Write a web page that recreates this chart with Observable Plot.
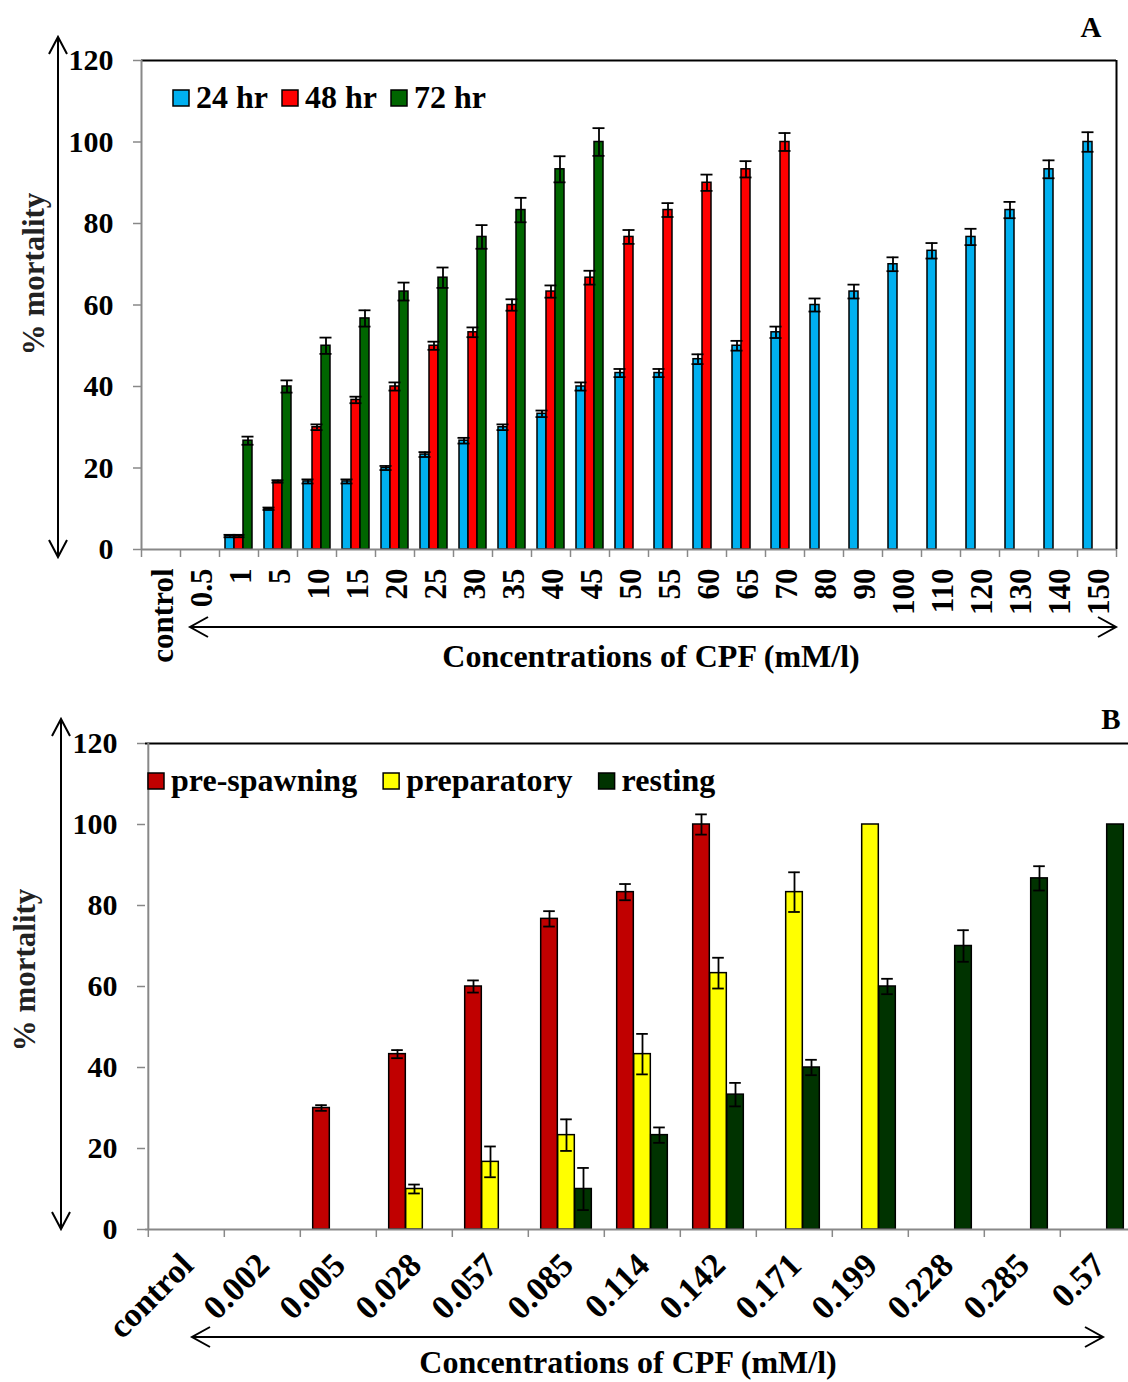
<!DOCTYPE html>
<html><head><meta charset="utf-8">
<script src="https://cdn.jsdelivr.net/npm/d3@7"></script>
<script src="https://cdn.jsdelivr.net/npm/@observablehq/plot@0.6"></script>
<style>
body{margin:0;background:#fff;}
#wrap{position:relative;width:1128px;height:1382px;overflow:hidden;background:#fff;}
#wrap > div{position:absolute;left:0;}
#wrap svg{display:block;max-width:none !important;}
</style></head><body><div id="wrap"><div id="pa" style="top:0;width:1128px"></div><div id="pb" style="top:690px;width:1150px"></div></div>
<script>
const FONT = '"Liberation Serif", "Times New Roman", Times, serif';
const yTicks = [0, 20, 40, 60, 80, 100, 120];
const yLabel = "% mortality";
const xLabel = "Concentrations of CPF (mM/l)";

// ---- Panel A data ----
const catsA = ["control","0.5","1","5","10","15","20","25","30","35","40","45","50","55","60","65","70","80","90","100","110","120","130","140","150"];
const seriesA = ["24 hr", "48 hr", "72 hr"];
const colorsA = ["#00B0F0", "#FF0000", "#006600"];
const mort24 = [0,0,3.3,10,16.7,16.7,20,23.3,26.7,30,33.3,40,43.3,43.3,46.7,50,53.3,60,63.3,70,73.3,76.7,83.3,93.3,100];
const err24  = [0,0,0.3,0.3,0.5,0.5,0.5,0.6,0.7,0.7,0.8,1,1,1,1.2,1.2,1.4,1.6,1.7,1.7,1.9,2,2,2.2,2.4];
const mort48 = [0,0,3.3,16.7,30,36.7,40,50,53.3,60,63.3,66.7,76.7,83.3,90,93.3,100,null,null,null,null,null,null,null,null];
const err48  = [0,0,0.3,0.3,0.7,0.8,1,1,1.2,1.4,1.5,1.7,1.7,1.7,2,2,2.2,null,null,null,null,null,null,null,null];
const mort72 = [0,0,26.7,40,50,56.7,63.3,66.7,76.7,83.3,93.3,100,null,null,null,null,null,null,null,null,null,null,null,null,null];
const err72  = [0,0,1,1.5,2,2,2.2,2.5,2.9,3,3.2,3.4,null,null,null,null,null,null,null,null,null,null,null,null,null];

// ---- Panel B data ----
const catsB = ["control","0.002","0.005","0.028","0.057","0.085","0.114","0.142","0.171","0.199","0.228","0.285","0.57"];
const seriesB = ["pre-spawning", "preparatory", "resting"];
const colorsB = ["#C00000", "#FFFF00", "#003300"];
const preSpawning    = [0,0,30,43.3,60,76.7,83.3,100,null,null,null,null,null];
const preSpawningErr = [0,0,0.7,1,1.5,1.9,2,2.5,null,null,null,null,null];
const preparatory    = [0,0,0,10,16.7,23.3,43.3,63.3,83.3,100,null,null,null];
const preparatoryErr = [0,0,0,1.1,3.8,3.9,5,3.8,4.9,0,null,null,null];
const resting        = [0,0,0,0,0,10,23.3,33.3,40,60,70,86.7,100];
const restingErr     = [0,0,0,0,0,5.2,1.9,2.9,1.9,1.9,3.9,3,0];

function rows(cats, vals, errs) {
  return cats.map((c, i) => ({cat: c, v: vals[i], e: errs[i]})).filter(d => d.v != null && d.v > 0);
}

function buildPanel(cfg) {
  const {cats, data, colors, width, height, ml, mr, mt, mb, barW, capW, rightBorder} = cfg;
  const bw = (width - ml - mr) / cats.length;
  const inset = (bw - barW) / 2, capInset = (bw - capW) / 2;
  const offs = [-barW, 0, barW];
  const bars = [], errs = [];
  data.forEach((rs, k) => {
    bars.push(Plot.barY(rs, {x: "cat", y: "v", fill: colors[k], stroke: "black", strokeWidth: 1.5, insetLeft: inset, insetRight: inset, dx: offs[k]}));
    const we = rs.filter(d => d.e > 0);
    errs.push(
      Plot.ruleX(we, {x: "cat", y1: d => d.v - d.e, y2: d => d.v + d.e, dx: offs[k], stroke: "black", strokeWidth: 1.8}),
      Plot.tickY(we, {x: "cat", y: d => d.v + d.e, dx: offs[k], insetLeft: capInset, insetRight: capInset, stroke: "black", strokeWidth: 1.8}),
      Plot.tickY(we, {x: "cat", y: d => d.v - d.e, dx: offs[k], insetLeft: capInset, insetRight: capInset, stroke: "black", strokeWidth: 1.8})
    );
  });
  const yMax = yTicks[yTicks.length - 1];
  const marks = [
    Plot.ruleY([yMax], {stroke: "black", strokeWidth: 2}),
    rightBorder ? Plot.ruleX([cats[cats.length - 1]], {x: d => d, y1: 0, y2: yMax, dx: bw / 2, stroke: "black", strokeWidth: 2}) : null,
    ...bars,
    ...errs,
    Plot.ruleY([0], {stroke: "#888", strokeWidth: 2}),
    Plot.ruleX([cats[0]], {x: d => d, y1: 0, y2: yMax, dx: -bw / 2, stroke: "#888", strokeWidth: 2}),
    Plot.axisY({ticks: yTicks, tickSize: 8, tickPadding: 20, fontSize: 30, fontWeight: "bold", stroke: "#888", strokeWidth: 1.5, fill: "black", label: null}),
    Plot.axisX({tickSize: 8, tickFormat: () => "", dx: -bw / 2, stroke: "#888", strokeWidth: 1.5, label: null}),
    Plot.axisX({ticks: [cats[cats.length - 1]], tickSize: 8, tickFormat: () => "", dx: bw / 2, stroke: "#888", strokeWidth: 1.5, label: null}),
    Plot.axisX({tickSize: 0, tickPadding: cfg.tickPadding, tickRotate: cfg.tickRotate, dx: cfg.tickDx, fontSize: cfg.tickFont, fontWeight: "bold", fill: "black", label: null})
  ];
  const svg = Plot.plot({
    width, height, marginLeft: ml, marginRight: mr, marginTop: mt, marginBottom: mb,
    style: {fontFamily: FONT, background: "white", overflow: "visible"},
    x: {type: "band", domain: cats, padding: 0, label: null},
    y: {domain: [0, yMax], label: null},
    marks
  });
  svg.style.maxWidth = "none";
  svg.setAttribute("width", width);
  svg.setAttribute("height", height);
  return svg;
}

function addDecor(svg, d) {
  const s = d3.select(svg);
  const g = s.append("g").attr("font-family", FONT).attr("font-weight", "bold").attr("fill", "black").attr("text-anchor", "start");
  // y arrow
  const ya = d.yArrow;
  g.append("line").attr("x1", ya.x).attr("x2", ya.x).attr("y1", ya.y1).attr("y2", ya.y2).attr("stroke", "black").attr("stroke-width", 2);
  g.append("path").attr("d", `M${ya.x-9},${ya.y1+17}L${ya.x},${ya.y1}L${ya.x+9},${ya.y1+17}M${ya.x-9},${ya.y2-17}L${ya.x},${ya.y2}L${ya.x+9},${ya.y2-17}`).attr("fill", "none").attr("stroke", "black").attr("stroke-width", 2);
  // x arrow
  const xa = d.xArrow;
  g.append("line").attr("x1", xa.x1).attr("x2", xa.x2).attr("y1", xa.y).attr("y2", xa.y).attr("stroke", "black").attr("stroke-width", 2);
  g.append("path").attr("d", `M${xa.x1+18},${xa.y-10}L${xa.x1},${xa.y}L${xa.x1+18},${xa.y+10}M${xa.x2-18},${xa.y-10}L${xa.x2},${xa.y}L${xa.x2-18},${xa.y+10}`).attr("fill", "none").attr("stroke", "black").attr("stroke-width", 2);
  // y label
  g.append("text").attr("transform", `translate(${d.yLab.x},${d.yLab.y}) rotate(-90)`).attr("text-anchor", "middle").attr("dy", "0.35em").attr("font-size", 31).attr("fill", "#222").text(yLabel);
  // x label
  g.append("text").attr("x", d.xLab.x).attr("y", d.xLab.y).attr("text-anchor", "middle").attr("font-size", 32).text(xLabel);
  // panel letter
  g.append("text").attr("x", d.letter.x).attr("y", d.letter.y).attr("text-anchor", "middle").attr("font-size", 29).text(d.letter.t);
  // legend
  let x = d.legend.x;
  d.legend.names.forEach((name, i) => {
    g.append("rect").attr("x", x).attr("y", d.legend.y - 18).attr("width", 16).attr("height", 16).attr("fill", d.legend.colors[i]).attr("stroke", "black").attr("stroke-width", 1.5);
    const t = g.append("text").attr("x", x + 23).attr("y", d.legend.y).attr("text-anchor", "start").attr("font-size", 32).text(name);
    const w = t.node().getComputedTextLength();
    x = x + 23 + w + d.legend.gap;
  });
}

const svgA = buildPanel({
  cats: catsA,
  data: [rows(catsA, mort24, err24), rows(catsA, mort48, err48), rows(catsA, mort72, err72)],
  colors: colorsA, width: 1128, height: 690, ml: 141, mr: 12, mt: 60, mb: 141,
  barW: 9, capW: 12, rightBorder: true, tickPadding: 19, tickRotate: -90, tickDx: 2, tickFont: 31
});
document.getElementById("pa").appendChild(svgA);
addDecor(svgA, {
  yArrow: {x: 58, y1: 37, y2: 557},
  xArrow: {x1: 190, x2: 1116, y: 627},
  yLab: {x: 33, y: 274},
  xLab: {x: 651, y: 667},
  letter: {x: 1091, y: 37, t: "A"},
  legend: {x: 173, y: 108, gap: 14, names: seriesA, colors: colorsA}
});

const svgB = buildPanel({
  cats: catsB,
  data: [rows(catsB, preSpawning, preSpawningErr), rows(catsB, preparatory, preparatoryErr), rows(catsB, resting, restingErr)],
  colors: colorsB, width: 1150, height: 692, ml: 145, mr: 12, mt: 53, mb: 153,
  barW: 17, capW: 12, rightBorder: false, tickPadding: 30, tickRotate: -45, tickDx: 1, tickFont: 34
});
document.getElementById("pb").appendChild(svgB);
addDecor(svgB, {
  yArrow: {x: 61, y1: 29, y2: 539},
  xArrow: {x1: 192, x2: 1103, y: 647},
  yLab: {x: 24, y: 280},
  xLab: {x: 628, y: 683},
  letter: {x: 1111, y: 39, t: "B"},
  legend: {x: 148, y: 101, gap: 26, names: seriesB, colors: colorsB}
});
</script></body></html>
